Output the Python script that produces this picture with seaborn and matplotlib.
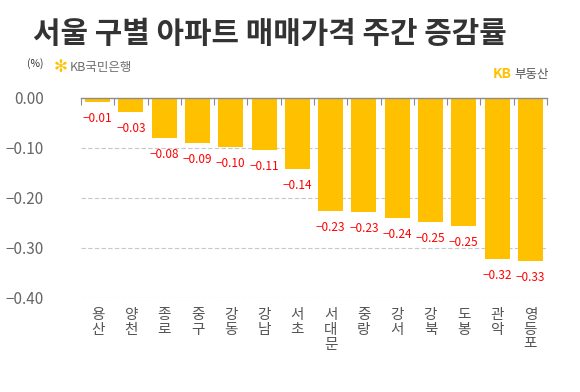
# Seoul weekly apartment price change by district (KB)
import numpy as np
import pandas as pd
import seaborn as sns
import matplotlib.pyplot as plt
from matplotlib.ticker import FixedLocator

districts = ['용산', '양천', '종로', '중구', '강동', '강남', '서초',
             '서대문', '중랑', '강서', '강북', '도봉', '관악', '영등포']
change = [-0.009, -0.029, -0.081, -0.091, -0.099, -0.105, -0.142,
          -0.226, -0.228, -0.240, -0.249, -0.256, -0.323, -0.326]
change_labels = ['−0.01', '−0.03', '−0.08', '−0.09', '−0.10', '−0.11', '−0.14',
                 '−0.23', '−0.23', '−0.24', '−0.25', '−0.25', '−0.32', '−0.33']
yticks = [0.0, -0.1, -0.2, -0.3, -0.4]

sns.set_theme(style='white')
plt.rcParams['font.family'] = ['Noto Sans CJK KR', 'DejaVu Sans']
plt.rcParams['axes.unicode_minus'] = True

df = pd.DataFrame({'district': districts, 'change': change})

fig = plt.figure(figsize=(5.8, 3.92), dpi=100)
ax = fig.add_axes([0.1397, 0.2398, 0.8033, 0.5102])

sns.barplot(data=df, x='district', y='change', ax=ax, color='#FFC000',
            saturation=1, width=0.75, edgecolor='none')

# red value labels under each bar
ax.bar_label(ax.containers[0], labels=change_labels, padding=7,
             color='#FF0000', fontsize=8.5)

ax.set_ylim(-0.4, 0)
ax.set_xlim(-0.5, len(districts) - 0.5)
ax.set_yticks(yticks)
ax.set_yticklabels([f'{v:.2f}'.replace('-', '−') for v in yticks])
ax.yaxis.grid(True, linestyle=(0, (4, 2)), color='#C8C8C8', linewidth=0.8)
ax.set_axisbelow(True)

for s in ['left', 'right', 'bottom']:
    ax.spines[s].set_visible(False)
ax.spines['top'].set_color('#8C8C8C')
ax.spines['top'].set_linewidth(1.0)

# boundary ticks hanging from the zero line
ax.xaxis.set_minor_locator(FixedLocator(np.arange(-0.5, len(districts), 1.0)))
ax.tick_params(axis='x', which='minor', top=True, bottom=False, direction='in',
               length=5, color='#8C8C8C', width=0.8)
ax.tick_params(axis='x', which='major', length=0, pad=7)
ax.tick_params(axis='y', length=0, pad=27, labelsize=11, labelcolor='#666666')

ax.set_xticks(range(len(districts)))
ax.set_xticklabels(['\n'.join(d) for d in districts], fontsize=10.5,
                   color='#555555', linespacing=1.1, va='top')
ax.set_xlabel('')
ax.set_ylabel('')

fig.text(0.466, 0.913, '서울 구별 아파트 매매가격 주간 증감률', ha='center', va='center',
         fontsize=21.5, fontweight='bold', color='#333333')
fig.text(0.047, 0.838, '(%)', fontsize=7.5, color='#333333', va='center')
fig.text(0.093, 0.828, '✻', fontsize=12, color='#FFC000', va='center',
         family=['DejaVu Sans'])
fig.text(0.121, 0.828, 'KB국민은행', fontsize=9, color='#6E6E6E', va='center')
fig.text(0.849, 0.81, 'KB', fontsize=10, fontweight='bold', color='#FFC000', va='center')
fig.text(0.886, 0.81, '부동산', fontsize=9, color='#555555', va='center')

fig.savefig('out.png', dpi=100)
